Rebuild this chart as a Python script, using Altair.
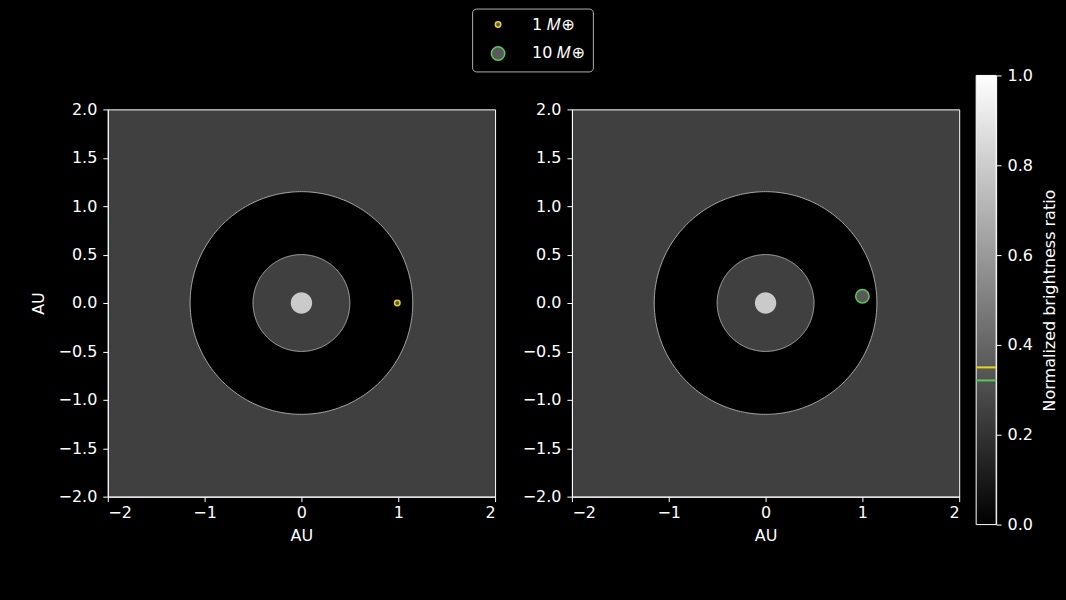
import altair as alt
import numpy as np
import pandas as pd

# ---------------- data ----------------
X_TICKS = [-2, -1, 0, 1, 2]
Y_TICKS = [-2.0, -1.5, -1.0, -0.5, 0.0, 0.5, 1.0, 1.5, 2.0]
STAR_R = 0.11        # AU, radius of the bright central disk
INNER_R = 0.5        # AU, inner edge of dark annulus
OUTER_R = 1.15       # AU, outer edge of dark annulus
PLANET_LABELS = ["1 𝑀⊕", "10 𝑀⊕"]
PLANET_X = [0.99, 1.0]
PLANET_Y = [0.0, 0.07]
PLANET_COLORS = ["#e8d41e", "#5cc65c"]
PLANET_SIZES = [30, 180]
CBAR_TICKS = [0.0, 0.2, 0.4, 0.6, 0.8, 1.0]
CBAR_MARKS = [0.350, 0.321]   # brightness ratio of each planet

BG = "#404040"
EDGE = "#a8a8a8"
STAR = "#cacaca"
PLANET_FILL = "#595959"
FONT = "DejaVu Sans"
FS = 16
PANEL = 388          # panel side, px
CBAR_TOP = 34        # colorbar reaches this many px above the panels
CBAR_BOTTOM = 28     # ... and this many px below them


def disk(r):
    t = np.linspace(0, np.pi, 241)
    return pd.DataFrame({"x": r * np.cos(t), "y": r * np.sin(t), "y2": -r * np.sin(t)})


def ring(r):
    t = np.linspace(0, 2 * np.pi, 361)
    return pd.DataFrame({"x": r * np.cos(t), "y": r * np.sin(t), "o": np.arange(361)})


def panel(idx, ytitle):
    xs = alt.Scale(domain=[-2, 2], nice=False, zero=False)
    ys = alt.Scale(domain=[-2, 2], nice=False, zero=False)
    xax = alt.Axis(values=X_TICKS, format="d", title="AU", titlePadding=7, labelPadding=3)
    yax = alt.Axis(values=Y_TICKS, format=".1f", title=ytitle, labelPadding=6)
    X = alt.X("x:Q", scale=xs, axis=xax)
    Y = alt.Y("y:Q", scale=ys, axis=yax)

    outer = alt.Chart(disk(OUTER_R)).mark_area(color="black").encode(x=X, y=Y, y2="y2:Q")
    outer_e = alt.Chart(ring(OUTER_R)).mark_line(color=EDGE, strokeWidth=1).encode(x=X, y=Y, order="o:Q")
    inner = alt.Chart(disk(INNER_R)).mark_area(color=BG).encode(x=X, y=Y, y2="y2:Q")
    inner_e = alt.Chart(ring(INNER_R)).mark_line(color=EDGE, strokeWidth=1).encode(x=X, y=Y, order="o:Q")
    star = alt.Chart(disk(STAR_R)).mark_area(color=STAR).encode(x=X, y=Y, y2="y2:Q")

    pdf = pd.DataFrame({"x": [PLANET_X[idx]], "y": [PLANET_Y[idx]], "label": [PLANET_LABELS[idx]]})
    if idx == 0:
        leg = alt.Legend(
            title=None, orient="none", legendX=365, legendY=-101,
            fillColor="black", strokeColor="#b0b0b0", cornerRadius=4, padding=8,
            symbolFillColor=PLANET_FILL, symbolStrokeWidth=1.5, symbolType="circle",
            symbolOffset=10,
            labelColor="white", labelFontSize=FS, labelFont=FONT, rowPadding=11,
            labelOffset=26,
        )
    else:
        leg = None
    planet = alt.Chart(pdf).mark_point(filled=True, fill=PLANET_FILL, opacity=1, strokeWidth=1.5).encode(
        x=X, y=Y,
        stroke=alt.Stroke("label:O", scale=alt.Scale(domain=PLANET_LABELS, range=PLANET_COLORS), legend=leg),
        size=alt.Size("label:O", scale=alt.Scale(domain=PLANET_LABELS, range=PLANET_SIZES), legend=leg),
    )
    return alt.layer(outer, outer_e, inner, inner_e, star, planet).properties(
        width=PANEL, height=PANEL,
        view=alt.ViewBackground(fill=BG, stroke="white", strokeWidth=1),
    )


# colorbar: one rect with a linear black-to-white gradient; its scale runs
# a little beyond the panel height (taller than the panels, as in the reference)
cb = pd.DataFrame({"v": [0.0], "v2": [1.0]})
cscale = alt.Scale(domain=[0, 1], nice=False, zero=False, range=[PANEL + CBAR_BOTTOM, -CBAR_TOP])
grad = alt.Gradient(
    gradient="linear", x1=0, x2=0, y1=1, y2=0,
    stops=[alt.GradientStop(color="#000000", offset=0), alt.GradientStop(color="#ffffff", offset=1)],
)
cbar = alt.Chart(cb).mark_rect(fill=grad, stroke="white", strokeWidth=1).encode(
    y=alt.Y("v:Q", scale=cscale,
            axis=alt.Axis(orient="right", values=CBAR_TICKS, format=".1f", labelPadding=6,
                          title="Normalized brightness ratio", titleAngle=270,
                          titleBaseline="top", titlePadding=9)),
    y2="v2:Q",
)
marks = alt.Chart(pd.DataFrame({"v": CBAR_MARKS, "c": PLANET_COLORS})).mark_rule(strokeWidth=2).encode(
    y=alt.Y("v:Q", scale=cscale), color=alt.Color("c:N", scale=None)
)
colorbar = alt.layer(cbar, marks).properties(
    width=20, height=PANEL, view=alt.ViewBackground(stroke="transparent")
)

chart = alt.hconcat(
    alt.hconcat(panel(0, "AU"), panel(1, None), spacing=25),
    colorbar,
    spacing=14,
).properties(
    background="black",
    padding={"left": 29, "top": 7, "right": 8, "bottom": 49},
).configure_axis(
    domainColor="white", tickColor="white", labelColor="white", titleColor="white",
    grid=False, labelFont=FONT, titleFont=FONT, labelFontSize=FS, titleFontSize=FS,
    titleFontWeight="normal", tickSize=5, labelPadding=5, titlePadding=12,
)

chart.save("out.html", embed_options={"renderer": "svg", "actions": False})
